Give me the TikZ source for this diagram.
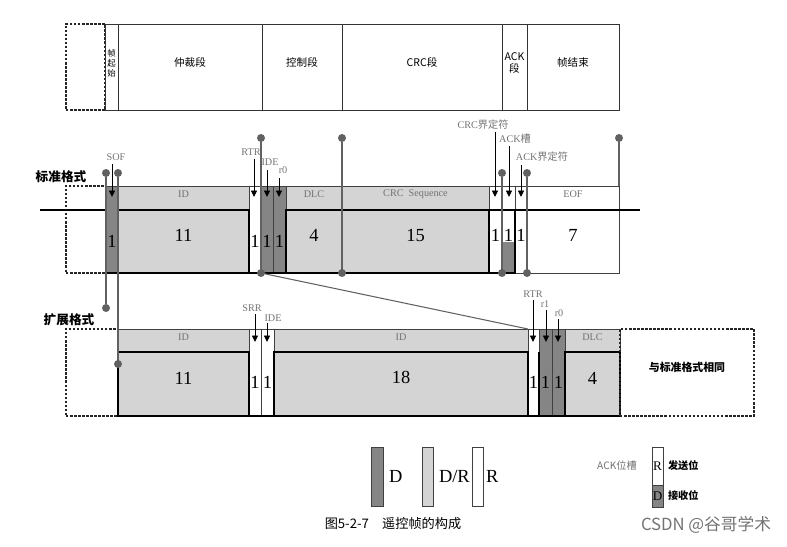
\documentclass[tikz,border=0pt]{standalone}
\usepackage{fontspec}
\setmainfont{Liberation Serif}
\newfontfamily\cjk{Noto Sans CJK SC}
\usetikzlibrary{arrows.meta, positioning, fit}

\definecolor{darkbit}{gray}{0.52}
\definecolor{lightbit}{gray}{0.83}
\definecolor{pincol}{gray}{0.38}
\definecolor{taggray}{gray}{0.45}

\newcommand{\numfont}{\fontsize{10.5}{11}\selectfont}
\newcommand{\tagfont}{\fontsize{5.8}{6.5}\selectfont}
\newcommand{\hdrfont}{\cjk\fontsize{6}{7}\selectfont}

\begin{document}
\begin{tikzpicture}[
    x=0.02cm, y=-0.02cm,
    every node/.style={inner sep=0pt, outer sep=0pt},
    fld/.style={rectangle, draw=black!75, line width=0.5pt, inner sep=0pt},
    hi/.style={fld, fill=lightbit, font=\tagfont, text=taggray},
    lo/.style={fld, fill=darkbit},
    rec/.style={fld, fill=white},
    box/.style={fld, fill=lightbit, draw=black, line width=1.3pt, font=\numfont},
    cell/.style={fld, draw=black!80, align=center, font=\hdrfont},
    ghost/.style={rectangle, draw=black!85, line width=0.8pt, dash pattern=on 1.4pt off 0.9pt, inner sep=0pt},
    bitnum/.style={font=\numfont, yshift=-0.23cm},
    heavy/.style={draw=black, line width=1.3pt},
    bus/.style={draw=black, line width=1.1pt},
    pindot/.style={circle, fill=pincol, minimum size=0.16cm},
    pinline/.style={draw=pincol, line width=0.6pt},
    tick/.style={-{Triangle[length=1.3mm, width=1.2mm]}, line width=0.5pt},
    tag/.style={font=\tagfont, text=taggray},
    legtxt/.style={font=\numfont},
    legcjk/.style={font=\cjk\bfseries\fontsize{5.8}{7}\selectfont},
    rowlbl/.style={font=\cjk\bfseries\fontsize{7.2}{8}\selectfont}
]
\useasboundingbox (0,0) rectangle (787,547);

% ============ FRAME OVERVIEW ============
\node[ghost, fit={(66,24)(105,110)}] (fdash) {};
\node[cell, fit={(105,24)(118,110)}, font=\cjk\fontsize{4.8}{5.8}\selectfont] (fsof) {帧\\起\\始};
\foreach \n/\xa/\xb/\t in {farb/118/262/仲裁段, fctl/262/342/控制段, fcrc/342/502/{CRC段}, fack/502/527/{ACK\\段}, feof/527/619/帧结束}
    \node[cell, fit={(\xa,24)(\xb,110)}] (\n) {\t};

% ============ STANDARD FORMAT ============
\node[rowlbl] (lstd) at (61,177) {标准格式};
\node[ghost, fit={(66,186)(106,273)}] (sdash) {};

% field names
\node[hi, fit={(118,186)(249,210)}] (sidn) {ID};
\node[hi, fit={(286,186)(342,210)}] (sdlcn) {DLC};
\node[hi, fit={(342,186)(489,210)}] (scrcn) {CRC\ \ Sequence};
\node[rec, fit={(489,186)(502,210)}] (scdn) {};
\node[rec, fit={(502,186)(515,210)}] (sakn) {};
\node[rec, fit={(515,186)(527,210)}] (sadn) {};
\node[rec, fit={(527,186)(619,210)}, font=\tagfont, text=taggray] (seofn) {EOF};
\node[rec, fit={(527,210)(619,273)}, font=\numfont] (seof) {7};
\node[rec, fit={(515,210)(527,273)}, font=\numfont] (sad) {1};

% bus line
\coordinate (busl) at (40,210);
\coordinate (busr) at (640,210);
\draw[bus] (busl) -- (busr);

% single bits
\foreach \n/\xa/\xb/\s in {ssof/106/118/lo, srtr/249/261/rec, side/261/273/lo, sr0/273/286/lo}
    \node[\s, fit={(\xa,186)(\xb,273)}, label={[bitnum]center:1}] (\n) {};

% field lengths
\node[box, fit={(118,210)(249,273)}] (sid) {11};
\node[box, fit={(286,210)(342,273)}] (sdlc) {4};
\node[box, fit={(342,210)(489,273)}] (scrc) {15};
\node[box, fill=white, fit={(489,210)(502,273)}] (scd) {1};
\node[box, fill=white, fit={(502,210)(515,273)},
    path picture={\fill[darkbit] (path picture bounding box.west) rectangle (path picture bounding box.south east);}] (sak) {1};
\draw[heavy] (ssof.south west) -- (sak.south east);

% ============ EXTENDED FORMAT ============
\node[rowlbl] (lext) at (69,320) {扩展格式};
\node[ghost, fit={(66,329)(118,416)}] (xdash) {};
\node[hi, fit={(118,329)(249,352)}] (xidn) {ID};
\node[hi, fit={(274,329)(528,352)}] (xid2n) {ID};
\node[hi, fit={(565,329)(620,352)}] (xdlcn) {DLC};

\foreach \n/\xa/\xb/\s in {xsrr/249/261/rec, xide/261/274/rec, xrtr/528/539/rec, xr1/539/552/lo, xr0/552/565/lo}
    \node[\s, fit={(\xa,329)(\xb,416)}, label={[bitnum, yshift=0.03cm]center:1}] (\n) {};

\node[box, fit={(118,352)(249,416)}] (xid) {11};
\node[box, fit={(274,352)(528,416)}] (xid2) {18};
\node[box, fit={(565,352)(620,416)}] (xdlc) {4};
\draw[heavy] (xid.south west) -- (xdlc.south east);
\draw[heavy] (xr1.west |- xdlc.north) -- (xr1.south west);
\node[ghost, fit={(620,329)(754,416)}, font=\cjk\bfseries\fontsize{6.2}{7}\selectfont] (xsame) {与标准格式相同};

% ============ PINS ============
\foreach \n/\x/\ya/\yb in {pa/106/173/308, pb/118/173/364, pc/261/138/273, pd/342/138/273, pe/502/173/273, pf/527/173/273} {
    \node[pindot] (\n1) at (\x,\ya) {};
    \node[pindot] (\n2) at (\x,\yb) {};
    \draw[pinline] (\n1) -- (\n2);
}
\node[pindot] (pg1) at (619,138) {};
\draw[pinline] (pg1) -- (seofn.north east);
\draw[pinline] (pc2) -- (xrtr.north west);

% ============ BIT NAMES ============
\coordinate (tipS) at (0,197);
\coordinate (tipX) at (0,342);
\foreach \n/\tx/\ty/\ax/\ay/\t in {tsof/116/157/112/164/SOF, trtr/251/152/254/159/RTR, tide/270/162/267/170/IDE, tr0/283/170/279/178/r0,
    tcd/483/125/495/132/{CRC{\cjk 界定符}}, tak/515/139/509/146/{ACK{\cjk 槽}}, tad/542/157/521/165/{ACK{\cjk 界定符}}} {
    \node[tag] (\n) at (\tx,\ty) {\t};
    \coordinate (\n a) at (\ax,\ay);
    \draw[tick] (\n a) -- (\n a |- tipS);
}
\foreach \n/\tx/\ty/\ax/\ay/\t in {usrr/252/308/255/314/SRR, uide/273/318/267/323/IDE, urtr/533/294/533/300/RTR, ur1/545/304/546/310/r1, ur0/559/313/558/319/r0} {
    \node[tag] (\n) at (\tx,\ty) {\t};
    \coordinate (\n a) at (\ax,\ay);
    \draw[tick] (\n a) -- (\n a |- tipX);
}

% ============ LEGEND ============
\node[lo, fit={(371,447)(383,506)}] (kd) {};
\node[legtxt, right=0.12cm of kd] (kdt) {D};
\node[hi, fit={(422,447)(433,506)}] (kdr) {};
\node[legtxt, right=0.12cm of kdr] (kdrt) {D/R};
\node[rec, fit={(472,447)(483,506)}] (kr) {};
\node[legtxt, right=0.06cm of kr] (krt) {R};

\node[tag, font=\cjk\tagfont] (acklbl) at (617,466) {ACK位槽};
\node[rec, fit={(652,447)(663,485)}] (ar) {};
\node[lo, fit={(652,485)(663,507)}] (ad) {};
\node[font=\fontsize{7.5}{8}\selectfont] (art0) at (ar.center) {R};
\node[font=\fontsize{7.5}{8}\selectfont] (adt0) at (ad.center) {D};
\node[legcjk, right=0.1cm of ar] (art) {发送位};
\node[legcjk, right=0.1cm of ad] (adt) {接收位};

% caption
\node[font=\cjk\fontsize{7.5}{9}\selectfont] (cap) at (393,524) {图5-2-7\quad 遥控帧的构成};
\node[font=\cjk\fontsize{9.5}{11}\selectfont, text=black!55] (wm) at (706,525) {CSDN @谷哥学术};

\end{tikzpicture}
\end{document}
